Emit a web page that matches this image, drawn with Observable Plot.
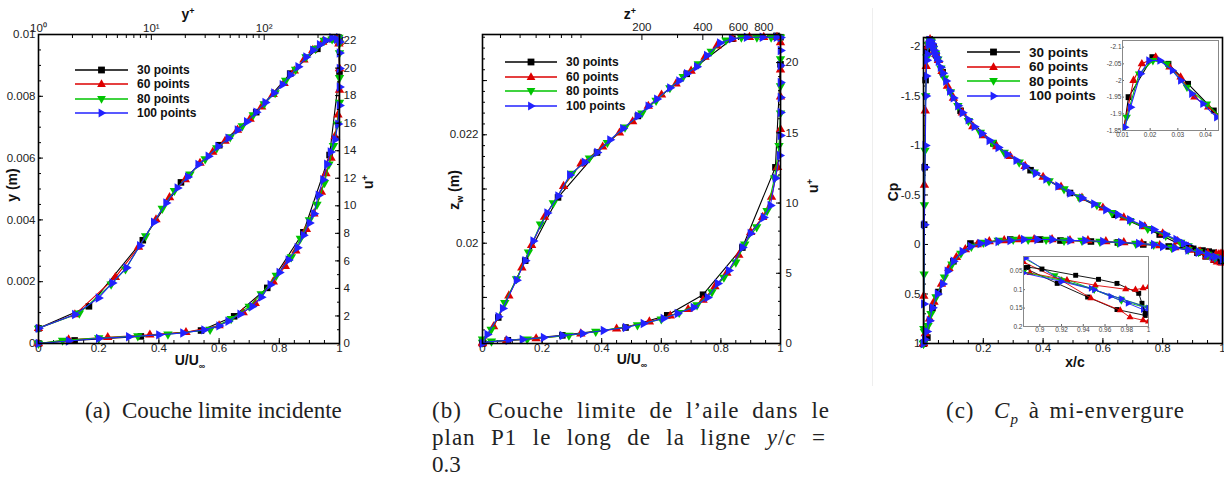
<!DOCTYPE html>
<html><head><meta charset="utf-8">
<script src="https://cdn.jsdelivr.net/npm/d3@7"></script>
<script src="https://cdn.jsdelivr.net/npm/@observablehq/plot@0.6"></script>
<style>
body{margin:0;background:#fff;}
#page{position:relative;width:1224px;height:494px;overflow:hidden;background:#fff;font-family:"Liberation Sans",Arial,sans-serif;}
.ax{position:absolute;font-weight:bold;font-size:14px;color:#111;white-space:nowrap;transform:translate(-50%,-50%);line-height:1;}
.ax.rot{transform:translate(-50%,-50%) rotate(-90deg);}
.ax sup,.ax sub{font-size:9px;}
.cap{position:absolute;font-family:"Liberation Serif","DejaVu Serif",serif;font-size:23px;color:#222;white-space:nowrap;line-height:27px;}
.cap .j{display:block;text-align:justify;text-align-last:justify;white-space:normal;letter-spacing:1px;}
.leg{position:absolute;font-weight:bold;font-size:12px;color:#111;}
.leg div{position:relative;height:14.3px;display:flex;align-items:center;white-space:nowrap;}
.leg svg{margin-right:9px;overflow:visible;}
</style></head><body><div id="page"></div><script>
// ---------- series ----------
const seriesNames = ["30 points", "60 points", "80 points", "100 points"];
const seriesColors = ["#000000", "#dd0000", "#00c400", "#2222ff"];

// ---------- panel (a): u+ vs y+ (top/right axes) ----------
const aLaw30 = [[1,1.1],[2.8,2.7],[8.4,7.5],[18.3,11.7],[40,14.4],[85,16.8],[170,19.6],[296,21.4],[400,22.1],[465,22.0]];
const aLaw60 = [[1,1.1],[2.1,2.1],[4.8,4.8],[7.7,7.0],[11,9.0],[14.5,10.6],[20,11.9],[27,13.1],[35,13.9],[45,14.7],[58,15.5],[75,16.3],[95,17.2],[120,18.1],[150,18.9],[185,19.8],[225,20.6],[270,21.3],[330,21.9],[390,22.1],[440,22.1],[465,21.9]];
const aLaw80 = [[1,1.1],[2.3,2.2],[4.4,4.3],[5.9,5.4],[8.9,7.8],[12.5,9.8],[16,11.1],[22,12.3],[30,13.4],[38,14.2],[50,15.0],[64,15.8],[80,16.6],[100,17.4],[125,18.2],[155,19.1],[190,19.9],[235,20.8],[285,21.4],[340,22.0],[400,22.1],[450,22.1],[465,21.8]];
const aLaw100 = [[1,1.1],[2.1,2.1],[3.4,3.3],[4.5,4.4],[6,5.5],[7.9,7.1],[10.5,8.8],[13.5,10.2],[17,11.3],[21,12.1],[26,13.0],[32,13.6],[39,14.3],[48,14.9],[58,15.5],[70,16.1],[85,16.8],[102,17.5],[122,18.2],[145,18.8],[170,19.5],[200,20.1],[235,20.8],[270,21.3],[310,21.7],[350,22.0],[400,22.2],[440,22.1],[465,21.9]];
// ---------- panel (a): y (m) vs U/Uinf (bottom/left axes) ----------
const aVel30 = [[0,0],[0.12,0.0001],[0.34,0.00023],[0.54,0.00042],[0.65,0.00088],[0.76,0.0018],[0.88,0.0036],[0.967,0.0061],[1.0,0.0088],[0.997,0.0099]];
const aVel60 = [[0,0],[0.1,0.00012],[0.23,0.0002],[0.37,0.00028],[0.49,0.00036],[0.6,0.00058],[0.68,0.001],[0.72,0.0013],[0.78,0.002],[0.82,0.0025],[0.855,0.003],[0.89,0.0037],[0.915,0.0042],[0.94,0.0049],[0.955,0.0055],[0.972,0.006],[0.985,0.0067],[0.995,0.0074],[1.0,0.0082],[1.0,0.0089],[0.998,0.0097]];
const aVel80 = [[0,0],[0.08,0.0001],[0.2,0.00018],[0.33,0.00024],[0.43,0.0003],[0.57,0.00045],[0.64,0.0008],[0.7,0.0012],[0.74,0.0016],[0.79,0.0022],[0.84,0.0028],[0.87,0.0034],[0.9,0.004],[0.925,0.0045],[0.95,0.0052],[0.965,0.0058],[0.98,0.0064],[0.993,0.0071],[1.0,0.0078],[1.0,0.0086],[1.0,0.0094],[0.998,0.0099]];
const aVel100 = [[0,0],[0.1,0.00008],[0.2,0.00016],[0.3,0.00022],[0.4,0.00028],[0.48,0.00034],[0.55,0.00044],[0.6,0.00057],[0.63,0.00072],[0.67,0.00095],[0.71,0.0012],[0.74,0.0015],[0.77,0.0019],[0.8,0.0023],[0.83,0.0027],[0.86,0.0031],[0.88,0.0035],[0.9,0.0039],[0.915,0.0042],[0.93,0.0048],[0.945,0.0053],[0.958,0.0058],[0.97,0.0062],[0.985,0.0066],[0.995,0.0071],[1.0,0.0077],[1.0,0.0083],[1.0,0.0089],[1.0,0.0094],[0.998,0.0099]];

// ---------- panel (b): u+ vs z+ ----------
const bLaw30 = [[32.6,0],[39,1.85],[53,5.9],[77,10.4],[120,13.6],[191,16.2],[333,19.2],[560,21.7],[925,21.9]];
const bLaw60 = [[32.6,0],[37,1.2],[44,3.4],[51,5.4],[57,7.0],[66,9.0],[82,11.2],[100,12.8],[128,14.0],[155,15.0],[180,15.8],[215,16.9],[250,17.7],[295,18.5],[350,19.4],[410,20.4],[470,21.2],[560,21.7],[680,21.8],[800,21.8],[930,21.8]];
const bLaw80 = [[32.6,0.3],[36,1.0],[42,2.9],[48,4.6],[55,6.5],[63,8.5],[73,10.0],[90,12.1],[110,13.2],[135,14.3],[165,15.4],[200,16.4],[235,17.3],[275,18.2],[320,19.0],[380,19.9],[440,20.8],[520,21.6],[620,21.8],[740,21.8],[870,21.8]];
const bLaw100 = [[32.6,0],[34.4,0.64],[39,1.9],[41,2.5],[48,4.5],[53,5.9],[58,7.3],[68,9.3],[77,10.5],[88,12.0],[104,12.9],[120,13.6],[139,14.5],[161,15.3],[191,16.2],[215,16.9],[237,17.4],[275,18.2],[305,18.7],[333,19.2],[373,19.7],[418,20.5],[485,21.4],[555,21.7],[658,21.8],[788,21.8],[925,21.8]];
// ---------- panel (b): z_w (m) vs U/Uinf ----------
const bVel30 = [[0,0.01817],[0.085,0.01821],[0.268,0.0183],[0.48,0.018445],[0.62,0.01867],[0.74,0.01905],[0.872,0.01992],[0.983,0.0214],[1.0,0.0233],[1.0,0.0238]];
const bVel60 = [[0,0.01817],[0.08,0.0182],[0.18,0.01824],[0.33,0.01833],[0.45,0.01842],[0.56,0.01855],[0.63,0.01866],[0.69,0.01878],[0.74,0.01895],[0.78,0.0192],[0.82,0.01945],[0.86,0.01978],[0.9,0.0202],[0.94,0.02048],[0.97,0.02085],[0.99,0.0214],[1.0,0.0221],[1.0,0.0227],[1.0,0.0232],[1.0,0.0237]];
const bVel80 = [[0,0.01817],[0.03,0.01819],[0.15,0.01823],[0.29,0.0183],[0.38,0.01837],[0.52,0.01849],[0.6,0.0186],[0.66,0.01872],[0.72,0.01886],[0.77,0.0191],[0.81,0.01937],[0.85,0.01965],[0.88,0.01998],[0.92,0.0203],[0.955,0.0206],[0.98,0.0212],[0.995,0.0218],[1.0,0.0224],[1.0,0.0229],[1.0,0.0234],[1.0,0.0238]];
const bVel100 = [[0,0.01817],[0.087,0.01821],[0.134,0.018224],[0.205,0.018261],[0.268,0.018298],[0.336,0.018335],[0.406,0.01839],[0.48,0.018445],[0.54,0.018519],[0.607,0.018611],[0.654,0.018704],[0.708,0.018814],[0.755,0.018999],[0.789,0.019257],[0.826,0.019497],[0.872,0.019921],[0.899,0.02018],[0.943,0.020475],[0.966,0.020696],[0.983,0.0212],[0.997,0.021619],[1.0,0.021988],[1.0,0.022412],[1.0,0.022689],[1.0,0.022966],[1.0,0.023279],[1.0,0.023556],[1.0,0.023796]];

// ---------- panel (c): Cp vs x/c, suction side ----------
const cUp30 = [[0,1],[0.002,-0.2],[0.004,-0.78],[0.007,-1.66],[0.0122,-1.95],[0.0208,-2.07],[0.0266,-2.05],[0.0337,-1.99],[0.043,-1.91],[0.064,-1.74],[0.124,-1.35],[0.234,-1.02],[0.358,-0.75],[0.49,-0.52],[0.64,-0.3],[0.79,-0.1],[0.885,0.04],[0.916,0.083],[0.944,0.12],[0.971,0.154],[0.997,0.17]];
const cUp60 = [[0,1],[0.001,0.52],[0.003,-0.6],[0.006,-1.35],[0.009,-1.8],[0.014,-2.0],[0.017,-2.05],[0.022,-2.07],[0.027,-2.04],[0.031,-2.01],[0.036,-1.95],[0.041,-1.92],[0.05,-1.86],[0.062,-1.75],[0.08,-1.6],[0.1,-1.48],[0.13,-1.33],[0.165,-1.19],[0.2,-1.1],[0.245,-0.99],[0.29,-0.89],[0.34,-0.79],[0.4,-0.68],[0.46,-0.58],[0.53,-0.47],[0.6,-0.37],[0.67,-0.27],[0.74,-0.18],[0.8,-0.11],[0.85,-0.03],[0.885,0.025],[0.92,0.075],[0.947,0.123],[0.974,0.156],[0.983,0.175],[0.995,0.183],[1.0,0.186]];
const cUp80 = [[0,1],[0.001,0.85],[0.002,0.3],[0.003,-0.4],[0.005,-0.95],[0.007,-1.5],[0.0115,-1.89],[0.016,-2.02],[0.021,-2.06],[0.026,-2.05],[0.0333,-1.98],[0.0405,-1.93],[0.048,-1.87],[0.058,-1.78],[0.07,-1.68],[0.09,-1.54],[0.115,-1.4],[0.15,-1.25],[0.19,-1.13],[0.23,-1.03],[0.27,-0.93],[0.32,-0.83],[0.37,-0.73],[0.42,-0.64],[0.47,-0.56],[0.52,-0.48],[0.58,-0.4],[0.63,-0.32],[0.69,-0.24],[0.75,-0.16],[0.81,-0.09],[0.86,-0.02],[0.885,0.014],[0.914,0.061],[0.95,0.1],[0.975,0.13],[1.0,0.151]];
const cUp100 = [[0,1],[0.001,0.6],[0.003,-0.2],[0.005,-0.78],[0.006,-1.0],[0.008,-1.5],[0.009,-1.7],[0.0108,-1.86],[0.0129,-1.92],[0.0165,-2.02],[0.0195,-2.06],[0.0235,-2.06],[0.028,-2.03],[0.031,-2.0],[0.035,-1.96],[0.039,-1.93],[0.044,-1.89],[0.05,-1.85],[0.057,-1.79],[0.065,-1.73],[0.075,-1.65],[0.088,-1.55],[0.1,-1.48],[0.115,-1.4],[0.13,-1.33],[0.15,-1.26],[0.17,-1.19],[0.195,-1.12],[0.22,-1.05],[0.25,-0.98],[0.28,-0.91],[0.31,-0.85],[0.34,-0.79],[0.375,-0.72],[0.41,-0.66],[0.45,-0.59],[0.49,-0.52],[0.53,-0.47],[0.57,-0.41],[0.61,-0.35],[0.65,-0.3],[0.69,-0.25],[0.73,-0.2],[0.77,-0.15],[0.81,-0.1],[0.845,-0.05],[0.87,-0.01],[0.887,0.014],[0.919,0.074],[0.947,0.096],[0.965,0.118],[0.981,0.137],[0.995,0.154],[1.0,0.161]];
// ---------- panel (c): pressure side ----------
const cLow30 = [[0,1],[0.013,0.94],[0.03,0.64],[0.05,0.48],[0.1,0.17],[0.157,-0.01],[0.29,-0.05],[0.39,-0.05],[0.458,-0.04],[0.56,-0.03],[0.65,-0.02],[0.735,0.0],[0.82,0.02],[0.889,0.039],[0.902,0.044],[0.933,0.061],[0.954,0.072],[0.971,0.083],[0.991,0.11],[0.994,0.137],[0.997,0.164]];
const cLow60 = [[0,1],[0.006,0.9],[0.02,0.75],[0.035,0.58],[0.06,0.4],[0.085,0.24],[0.11,0.13],[0.14,0.05],[0.18,0.0],[0.22,-0.03],[0.27,-0.04],[0.32,-0.05],[0.37,-0.05],[0.43,-0.05],[0.49,-0.04],[0.55,-0.04],[0.61,-0.03],[0.67,-0.02],[0.73,-0.01],[0.79,0.01],[0.84,0.03],[0.891,0.055],[0.925,0.074],[0.951,0.088],[0.979,0.099],[0.988,0.1],[0.995,0.096],[1.0,0.093]];
const cLow80 = [[0,1],[0.003,0.88],[0.015,0.82],[0.025,0.7],[0.042,0.53],[0.07,0.33],[0.095,0.2],[0.125,0.09],[0.16,0.02],[0.2,-0.02],[0.25,-0.04],[0.3,-0.05],[0.35,-0.05],[0.41,-0.05],[0.47,-0.04],[0.53,-0.04],[0.59,-0.03],[0.65,-0.02],[0.71,-0.01],[0.77,0.0],[0.83,0.03],[0.885,0.052],[0.92,0.075],[0.95,0.1],[0.975,0.125],[1.0,0.148]];
const cLow100 = [[0,1],[0.004,0.96],[0.011,0.88],[0.02,0.77],[0.03,0.64],[0.047,0.5],[0.064,0.4],[0.08,0.27],[0.1,0.17],[0.13,0.07],[0.157,0.02],[0.19,-0.01],[0.214,-0.02],[0.25,-0.03],[0.29,-0.04],[0.335,-0.05],[0.38,-0.05],[0.43,-0.05],[0.49,-0.04],[0.54,-0.04],[0.6,-0.03],[0.66,-0.02],[0.72,-0.01],[0.77,0.0],[0.8,0.02],[0.84,0.035],[0.885,0.055],[0.92,0.078],[0.95,0.1],[0.975,0.125],[1.0,0.15]];

// ---------- tick values and labels ----------
const aUTicks = [0,0.2,0.4,0.6,0.8,1], aULabels = ["0","0.2","0.4","0.6","0.8","1"];
const aYTicks = [0,0.002,0.004,0.006,0.008,0.01], aYLabels = ["0","0.002","0.004","0.006","0.008","0.01"];
const aYPlusTicks = [1,10,100], aYPlusLabels = ["10\u2070","10\u00b9","10\u00b2"];
const aUPlusTicks = [0,2,4,6,8,10,12,14,16,18,20,22];
const bZTicks = [0.019,0.02,0.021,0.022,0.023], bZLabels = ["","0.02","","0.022",""];
const bZPlusTicks = [200,400,600,800], bZPlusLabels = ["200","400","600","800"];
const bUPlusTicks = [0,5,10,15,20];
const cXTicks = [0,0.2,0.4,0.6,0.8,1], cXLabels = ["","0.2","0.4","0.6","0.8","1"];
const cCpTicks = [-2,-1.5,-1,-0.5,0,0.5,1], cCpLabels = ["-2","-1.5","-1","-0.5","0","0.5","1"];
const in1XTicks = [0.01,0.02,0.03,0.04], in1XLabels = ["0.01","0.02","0.03","0.04"];
const in1YTicks = [-2.1,-2.05,-2,-1.95,-1.9,-1.85], in1YLabels = ["-2.1","-2.05","-2","-1.95","-1.9","-1.85"];
const in2XTicks = [0.9,0.92,0.94,0.96,0.98,1], in2XLabels = ["0.9","0.92","0.94","0.96","0.98","1"];
const in2YTicks = [0.05,0.1,0.15,0.2], in2YLabels = ["0.05","0.1","0.15","0.2"];

// ---------- helpers ----------
const page = document.getElementById("page");
function tri(dir) {
  return {draw(ctx, size) {
    const a = Math.sqrt(4 * size / Math.sqrt(3)), h = a * Math.sqrt(3) / 2;
    let p;
    if (dir === "up") p = [[0,-2*h/3],[a/2,h/3],[-a/2,h/3]];
    else if (dir === "down") p = [[0,2*h/3],[a/2,-h/3],[-a/2,-h/3]];
    else p = [[2*h/3,0],[-h/3,a/2],[-h/3,-a/2]];
    ctx.moveTo(p[0][0], p[0][1]); ctx.lineTo(p[1][0], p[1][1]); ctx.lineTo(p[2][0], p[2][1]); ctx.closePath();
  }};
}
const sq = {draw(ctx, size) { const s = Math.sqrt(size); ctx.rect(-s/2, -s/2, s, s); }};
const seriesSymbols = [sq, tri("up"), tri("down"), tri("right")];
const seriesR = [3.7, 3.5, 3.5, 3.5];

function seriesMarks(arrays, opt = {}) {
  const k = opt.scale ?? 1;
  return arrays.flatMap((arr, i) => {
    const data = arr.map(([x, y]) => ({x, y}));
    return [
      Plot.line(data, {x: "x", y: "y", stroke: seriesColors[i], strokeWidth: opt.sw ?? 1.1, clip: opt.clip}),
      Plot.dot(data, {x: "x", y: "y", fill: seriesColors[i], stroke: "none", symbol: seriesSymbols[i], r: seriesR[i] * k, clip: opt.clip})
    ];
  });
}
function labeler(ticks, labels) { return d => { const i = ticks.findIndex(t => Math.abs(t - d) < 1e-9 * Math.max(1, Math.abs(t))); return i < 0 ? "" : labels[i]; }; }
function axisPair(fn, anchor, major, minor, fmt, pad, o = {}) {
  const size = o.size ?? 5, msize = o.msize ?? 3;
  const out = [];
  if (minor) out.push(fn({anchor, ticks: minor, tickSize: -msize, tickFormat: () => "", label: null, stroke: o.tickColor ?? "#000", strokeWidth: o.sw ?? 1}));
  out.push(fn({anchor, ticks: major, tickSize: -size, tickPadding: size + pad, tickFormat: fmt, label: null, stroke: o.tickColor ?? "#000", fill: o.textColor ?? "#222", strokeWidth: o.sw ?? 1}));
  return out;
}
function addPlot({left, top, width, height, ml, mr, mt, mb, x, y, marks, bg, fontSize}) {
  const svg = Plot.plot({width, height, marginLeft: ml, marginRight: mr, marginTop: mt, marginBottom: mb, x, y, marks,
    style: {background: bg ?? "transparent", fontFamily: "'Liberation Sans', Arial, sans-serif", fontSize: fontSize ?? "11.5px", overflow: "visible"}});
  svg.style.position = "absolute"; svg.style.left = left + "px"; svg.style.top = top + "px"; svg.style.maxWidth = "none";
  page.appendChild(svg);
  return svg;
}
function html(cls, left, top, content, extra = "") {
  const d = document.createElement("div");
  d.className = cls; d.style.left = left + "px"; d.style.top = top + "px"; d.innerHTML = content;
  if (extra) d.style.cssText += extra;
  page.appendChild(d); return d;
}
function legend(left, top, rowH, lineW, fontSize) {
  const box = document.createElement("div");
  box.className = "leg"; box.style.left = left + "px"; box.style.top = top + "px"; box.style.fontSize = fontSize + "px";
  const shapes = [
    `<rect x="-3.4" y="-3.4" width="6.8" height="6.8"/>`,
    `<polygon points="0,-4.8 4.4,2.9 -4.4,2.9"/>`,
    `<polygon points="0,4.8 4.4,-2.9 -4.4,-2.9"/>`,
    `<polygon points="4.8,0 -2.9,4.4 -2.9,-4.4"/>`
  ];
  seriesNames.forEach((name, i) => {
    const row = document.createElement("div");
    row.style.height = rowH + "px";
    row.innerHTML = `<svg width="${lineW}" height="10" viewBox="0 -5 ${lineW} 10"><line x1="0" x2="${lineW}" y1="0" y2="0" stroke="${seriesColors[i]}" stroke-width="1.6"/><g transform="translate(${lineW/2},0)" fill="${seriesColors[i]}">${shapes[i]}</g></svg><span>${name}</span>`;
    box.appendChild(row);
  });
  page.appendChild(box);
}
const range = (a, b, s) => d3.range(Math.round((b - a) / s) + 1).map(i => +(a + i * s).toFixed(6));

// ================= PANEL (a) =================
const A = {left: 0, top: 0, width: 400, height: 380, ml: 38, mr: 61, mt: 34, mb: 37};
addPlot({...A,
  x: {domain: [0, 1]}, y: {domain: [0, 0.01]},
  marks: [
    ...axisPair(Plot.axisX, "bottom", aUTicks, range(0, 1, 0.05), labeler(aUTicks, aULabels), 0),
    ...axisPair(Plot.axisY, "left", aYTicks, range(0, 0.01, 0.0005), labeler(aYTicks, aYLabels), 3),
    ...seriesMarks([aVel30, aVel60, aVel80, aVel100])
  ]});
addPlot({...A,
  x: {type: "log", domain: [1, 465]}, y: {domain: [0, 22.44]},
  marks: [
    ...axisPair(Plot.axisX, "top", aYPlusTicks, [2,3,4,5,6,7,8,9,20,30,40,50,60,70,80,90,200,300,400], () => "", 3),
    Plot.text(aYPlusTicks, {x: d => d, text: labeler(aYPlusTicks, aYPlusLabels), frameAnchor: "top", lineAnchor: "bottom", dy: -3, fill: "#222"}),
    ...axisPair(Plot.axisY, "right", aUPlusTicks, range(0, 22, 1), d => String(d), 4),
    ...seriesMarks([aLaw30, aLaw60, aLaw80, aLaw100]),
    Plot.frame({stroke: "#000", strokeWidth: 1.6})
  ]});
html("ax", 188, 14, "y<sup>+</sup>");
html("ax", 190, 362, "U/U<sub>\u221e</sub>");
html("ax rot", 12, 185, "y (m)");
html("ax rot", 368, 182, "u<sup>+</sup>");
legend(75, 63, 14.3, 53, 12);

// ================= PANEL (b) =================
const B = {left: 440, top: 0, width: 400, height: 380, ml: 42, mr: 60, mt: 34, mb: 37};
addPlot({...B,
  x: {domain: [0, 1]}, y: {domain: [0.01815, 0.02385]},
  marks: [
    ...axisPair(Plot.axisX, "bottom", aUTicks, range(0, 1, 0.05), labeler(aUTicks, aULabels), 0),
    ...axisPair(Plot.axisY, "left", bZTicks, range(0.0182, 0.0238, 0.0002), labeler(bZTicks, bZLabels), 4),
    ...seriesMarks([bVel30, bVel60, bVel80, bVel100])
  ]});
addPlot({...B,
  x: {type: "log", domain: [32.6, 968]}, y: {domain: [0, 22]},
  marks: [
    ...axisPair(Plot.axisX, "top", bZPlusTicks, [40,50,60,70,80,90,100,300,500,700,900], () => "", 5),
    Plot.text(bZPlusTicks, {x: d => d, text: labeler(bZPlusTicks, bZPlusLabels), frameAnchor: "top", lineAnchor: "bottom", dy: -4, fill: "#222"}),
    ...axisPair(Plot.axisY, "right", bUPlusTicks, range(0, 22, 1), d => String(d), 5),
    ...seriesMarks([bLaw30, bLaw60, bLaw80, bLaw100]),
    Plot.frame({stroke: "#000", strokeWidth: 1.6})
  ]});
html("ax", 630, 14, "z<sup>+</sup>");
html("ax", 632, 361, "U/U<sub>\u221e</sub>");
html("ax rot", 456, 190, "z<sub>w</sub> (m)");
html("ax rot", 813, 186, "u<sup>+</sup>");
legend(505, 55, 14.6, 52, 12);

// ================= PANEL (c) =================
html("", 872, 8, "", "position:absolute;width:1px;height:378px;background:#eeeeee;");
addPlot({left: 870, top: 0, width: 354, height: 380, ml: 53, mr: 2, mt: 37, mb: 37,
  x: {domain: [0, 1]}, y: {domain: [-2.09, 1], reverse: true},
  marks: [
    ...axisPair(Plot.axisX, "bottom", cXTicks, range(0, 1, 0.05), labeler(cXTicks, cXLabels), 0),
    ...axisPair(Plot.axisY, "left", cCpTicks, range(-2, 1, 0.1), labeler(cCpTicks, cCpLabels), 3),
    ...seriesMarks([cUp30, cUp60, cUp80, cUp100]),
    ...seriesMarks([cLow30, cLow60, cLow80, cLow100]),
    Plot.frame({stroke: "#000", strokeWidth: 1.6})
  ]});
html("ax rot", 893, 192, "Cp");
html("ax", 1075, 362, "x/c");
legend(967, 45, 14.5, 53, 13.5);

// inset 1 : suction peak
addPlot({left: 1095, top: 36, width: 129, height: 104, ml: 27, mr: 6, mt: 4, mb: 10, fontSize: "6.5px",
  x: {domain: [0.01, 0.0447]}, y: {domain: [-2.12, -1.85], reverse: true},
  marks: [
    Plot.frame({fill: "white", stroke: "none"}),
    ...axisPair(Plot.axisX, "bottom", in1XTicks, null, labeler(in1XTicks, in1XLabels), 2, {size: 2, tickColor: "#666", textColor: "#444"}),
    ...axisPair(Plot.axisY, "left", in1YTicks, null, labeler(in1YTicks, in1YLabels), 1, {size: 2, tickColor: "#666", textColor: "#444"}),
    ...seriesMarks([cUp30, cUp60, cUp80, cUp100], {clip: true, scale: 0.9}),
    Plot.frame({stroke: "#888", strokeWidth: 1})
  ]});
// inset 2 : trailing edge
addPlot({left: 1000, top: 250, width: 155, height: 86, ml: 23, mr: 7, mt: 6, mb: 10, fontSize: "6.5px",
  x: {domain: [0.885, 1.0]}, y: {domain: [0.01, 0.2], reverse: true},
  marks: [
    Plot.frame({fill: "white", stroke: "none"}),
    ...axisPair(Plot.axisX, "bottom", in2XTicks, null, labeler(in2XTicks, in2XLabels), 1, {size: 2, tickColor: "#666", textColor: "#444"}),
    ...axisPair(Plot.axisY, "left", in2YTicks, null, labeler(in2YTicks, in2YLabels), 1, {size: 2, tickColor: "#666", textColor: "#444"}),
    ...seriesMarks([cUp30, cUp60, cUp80, cUp100], {clip: true, scale: 0.75, sw: 0.9}),
    ...seriesMarks([cLow30, cLow60, cLow80, cLow100], {clip: true, scale: 0.75, sw: 0.9}),
    Plot.frame({stroke: "#888", strokeWidth: 1})
  ]});

// ================= captions =================
html("cap", 85, 397, "(a)&nbsp; Couche limite incidente");
html("cap", 432, 397, "<span class='j' style='width:398px'>(b)&nbsp; Couche limite de l\u2019aile dans le</span><span class='j' style='width:394px'>plan P1 le long de la ligne <i>y</i>/<i>c</i> =</span><span style='display:block'>0.3</span>");
html("cap", 946, 397, "(c)&nbsp; <i>C<sub style='font-size:15px'>p</sub></i> \u00e0 mi-envergure", "letter-spacing:1px;word-spacing:3px;");
</script></body></html>
